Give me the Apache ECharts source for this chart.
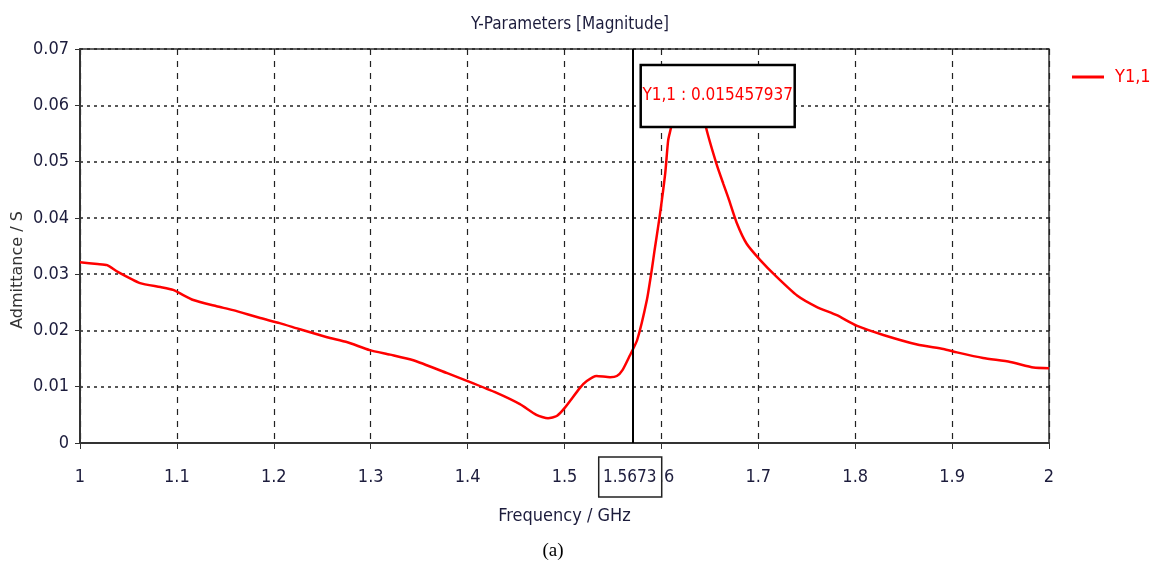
<!DOCTYPE html>
<html>
<head>
<meta charset="utf-8">
<script src="https://cdn.jsdelivr.net/npm/echarts@6/dist/echarts.min.js"></script>
<style>
  html, body { margin: 0; padding: 0; background: #fff; }
  #main { width: 1157px; height: 565px; }
</style>
</head>
<body>
<div id="main"></div>
<script>
// frequency (GHz) and |Y1,1| (S)
var freq = [1.000, 1.018, 1.028, 1.039, 1.062, 1.083, 1.096, 1.117, 1.141, 1.158,
  1.186, 1.206, 1.227, 1.255, 1.276, 1.299, 1.320, 1.344, 1.379, 1.400,
  1.430, 1.454, 1.471, 1.483, 1.492, 1.500, 1.516, 1.523, 1.533, 1.547,
  1.554, 1.560, 1.5673, 1.575, 1.585, 1.590, 1.593, 1.598, 1.604, 1.607,
  1.610, 1.618, 1.628, 1.638, 1.646, 1.657, 1.664, 1.669, 1.678, 1.688,
  1.702, 1.719, 1.740, 1.760, 1.781, 1.802, 1.829, 1.864, 1.891, 1.905,
  1.932, 1.960, 1.984, 2.000];
var y11 = [0.0321, 0.0318, 0.0316, 0.0304, 0.0284, 0.0277, 0.0272, 0.0254, 0.0243, 0.0236,
  0.0222, 0.0213, 0.0202, 0.0188, 0.0179, 0.0165, 0.0157, 0.0147, 0.0124, 0.0110,
  0.0089, 0.0069, 0.0050, 0.0044, 0.0048, 0.0062, 0.0098, 0.0110, 0.0119, 0.0117,
  0.0119, 0.0130, 0.0155, 0.0183, 0.0254, 0.0307, 0.0343, 0.0400, 0.0480, 0.0538,
  0.0561, 0.0640, 0.0670, 0.0630, 0.0561, 0.0495, 0.0460, 0.0436, 0.0390, 0.0354,
  0.0325, 0.0295, 0.0262, 0.0242, 0.0227, 0.0208, 0.0192, 0.0175, 0.0167, 0.0161,
  0.0151, 0.0144, 0.0134, 0.0133];
var markerFreq = 1.5673;
var markerText = 'Y1,1 : 0.015457937';

var narrow = "'DejaVu Sans Condensed', 'Liberation Sans Narrow', sans-serif";
var ink = '#1c1c3c';

var points = [];
for (var i = 0; i < freq.length; i++) points.push([freq[i], y11[i]]);

var myChart = echarts.init(document.getElementById('main'));
myChart.setOption({
  backgroundColor: '#fff',
  animation: false,
  title: {
    text: 'Y-Parameters [Magnitude]',
    left: 565, top: 11, textAlign: 'center',
    textStyle: { fontFamily: narrow, fontSize: 17, fontWeight: 'normal', color: ink }
  },
  legend: {
    left: 1067, top: 63,
    icon: 'rect', itemWidth: 32, itemHeight: 3,
    textStyle: { fontFamily: narrow, fontSize: 18, color: '#ff0000', padding: [0, 0, 0, 6] },
    data: ['Y1,1']
  },
  grid: {
    left: 80, right: 108, top: 49, bottom: 122,
    outerBoundsMode: 'none',
    show: true, borderColor: '#333', borderWidth: 1.5
  },
  xAxis: {
    type: 'value', min: 1, max: 2, interval: 0.1,
    name: 'Frequency / GHz', nameLocation: 'middle', nameGap: 64,
    nameTextStyle: { fontFamily: narrow, fontSize: 18, color: ink },
    axisLine: { show: true, lineStyle: { color: '#333', width: 2 } },
    axisTick: { show: true, length: 6, lineStyle: { color: '#333' } },
    axisLabel: {
      margin: 25, fontFamily: narrow, fontSize: 18, color: ink,
      formatter: function (v) { return String(Math.round(v * 10) / 10); }
    },
    splitLine: { show: true, lineStyle: { color: '#222', type: [6, 6], width: 1.2 } }
  },
  yAxis: {
    type: 'value', min: 0, max: 0.07, interval: 0.01,
    axisLine: { show: true, lineStyle: { color: '#333', width: 2 } },
    axisTick: { show: true, length: 5, lineStyle: { color: '#333' } },
    axisLabel: {
      margin: 11, fontFamily: narrow, fontSize: 18, color: ink,
      formatter: function (v) { return v === 0 ? '0' : v.toFixed(2); }
    },
    splitLine: { show: true, lineStyle: { color: '#222', type: [3, 4], width: 1.5 } }
  },
  series: [{
    name: 'Y1,1',
    type: 'line',
    data: points,
    showSymbol: false,
    smooth: 0.2,
    lineStyle: { color: '#ff0000', width: 2.5 },
    itemStyle: { color: '#ff0000' },
    markLine: {
      silent: true, symbol: 'none',
      label: { show: false },
      lineStyle: { color: '#000', type: 'solid', width: 2 },
      data: [{ xAxis: markerFreq }]
    }
  }]
});

// marker boxes placed from the chart's own scale
var basePx = myChart.convertToPixel({ gridIndex: 0 }, [markerFreq, 0]);
var topPx = myChart.convertToPixel({ gridIndex: 0 }, [markerFreq, 0.07]);
myChart.setOption({
  graphic: [
    {
      type: 'text', z: 101,
      x: 18, y: 270, rotation: Math.PI / 2,
      style: { text: 'Admittance / S', fontFamily: "'DejaVu Sans', sans-serif", fontSize: 16, fill: '#333', align: 'center', verticalAlign: 'middle' }
    },
    {
      type: 'rect', z: 100,
      shape: { x: basePx[0] - 31, y: basePx[1] + 14, width: 63, height: 40 },
      style: { fill: '#fff', stroke: '#222', lineWidth: 1.5 }
    },
    {
      type: 'text', z: 101,
      x: basePx[0], y: basePx[1] + 35,
      style: { text: String(markerFreq), fontFamily: narrow, fontSize: 17, fill: ink, align: 'center', verticalAlign: 'middle' }
    },
    {
      type: 'rect', z: 100,
      shape: { x: basePx[0] + 11, y: topPx[1] + 16, width: 154, height: 62 },
      style: { fill: '#fff', stroke: '#000', lineWidth: 2.5 }
    },
    {
      type: 'text', z: 101,
      x: basePx[0] + 88, y: topPx[1] + 47,
      style: { text: markerText, fontFamily: narrow, fontSize: 17, fill: '#ff0000', align: 'center', verticalAlign: 'middle' }
    },
    {
      type: 'text', z: 101,
      x: 553, y: 551,
      style: { text: '(a)', fontFamily: "'Liberation Serif', serif", fontSize: 19, fill: '#000', align: 'center', verticalAlign: 'middle' }
    }
  ]
});
</script>
</body>
</html>
